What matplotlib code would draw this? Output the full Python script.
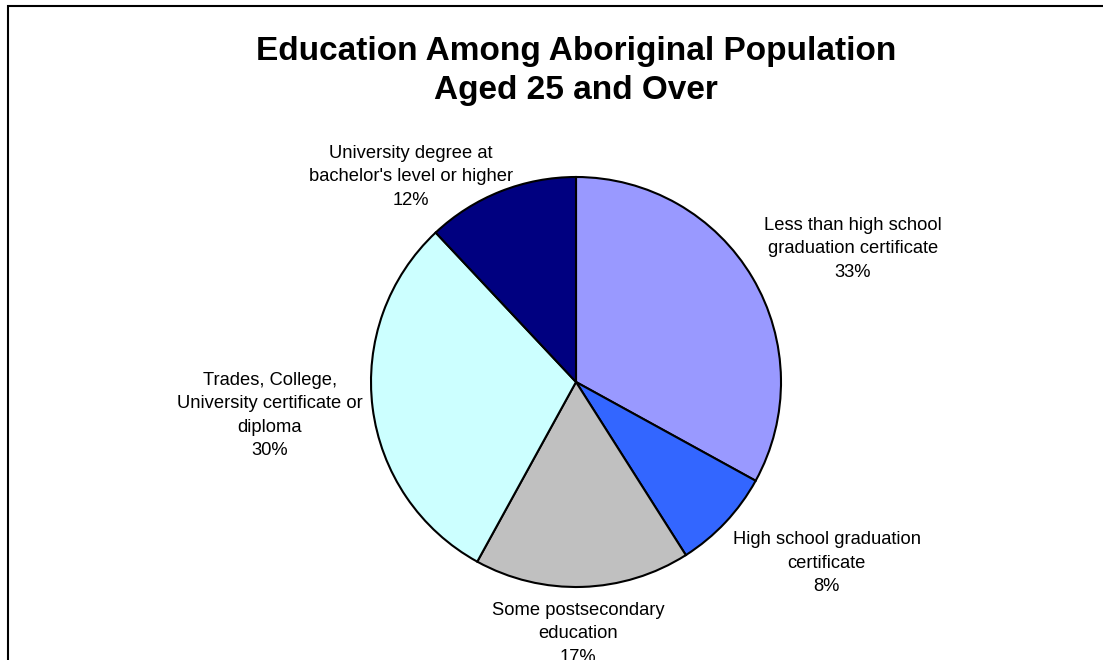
import matplotlib.pyplot as plt
from matplotlib.patches import Rectangle

labels = ["Less than high school\ngraduation certificate",
          "High school graduation\ncertificate",
          "Some postsecondary\neducation",
          "Trades, College,\nUniversity certificate or\ndiploma",
          "University degree at\nbachelor's level or higher"]
values = [33, 8, 17, 30, 12]
colors = ["#9999FF", "#3366FF", "#C0C0C0", "#CCFFFF", "#000080"]

# label centres, in units of the pie radius
label_pos = [(1.351, 0.649), (1.224, -0.883), (0.01, -1.229),
             (-1.493, -0.163), (-0.805, 1.0)]

plt.rcParams["font.family"] = ["Liberation Sans", "DejaVu Sans"]

fig = plt.figure(figsize=(11.03, 6.60), dpi=100)
ax = fig.add_axes([0, 0, 1, 1])

ax.pie(values, colors=colors, startangle=90, counterclock=False,
       radius=1, wedgeprops=dict(edgecolor="black", linewidth=1.5))

total = sum(values)
for lab, v, (x, y) in zip(labels, values, label_pos):
    ax.text(x, y, "%s\n%d%%" % (lab, round(100 * v / total)),
            ha="center", va="center", fontsize=13.2, linespacing=1.5)

R = 205.0
ax.set_xlim(-576 / R, (1103 - 576) / R)
ax.set_ylim(-(660 - 382) / R, 382 / R)
ax.set_aspect("auto")
ax.axis("off")

fig.text(576 / 1103, 1 - 71 / 660,
         "Education Among Aboriginal Population\nAged 25 and Over",
         ha="center", va="center", fontsize=24, fontweight="bold",
         linespacing=1.3)

# chart area border (only top and left are visible in the crop)
fig.patches.append(Rectangle((8 / 1103, -0.1), 1.2, 1 - 6 / 660 + 0.1,
                             transform=fig.transFigure, fill=False,
                             edgecolor="black", linewidth=1.5))

fig.savefig("out.png", dpi=100)
